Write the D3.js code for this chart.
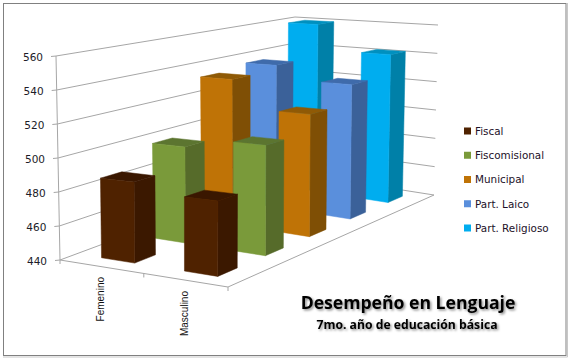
<!DOCTYPE html>
<html>
<head>
<meta charset="utf-8">
<script src="https://cdnjs.cloudflare.com/ajax/libs/d3/7.8.5/d3.min.js"></script>
<style>
  html, body { margin: 0; padding: 0; background: #fff; }
  svg { display: block; }
</style>
</head>
<body>
<div id="chart"></div>
<script>
var categories = ["Femenino", "Masculino"];
var series = ["Fiscal", "Fiscomisional", "Municipal", "Part. Laico", "Part. Religioso"];
var femenino = [487, 499, 534, 537, 560];
var masculino = [482, 505, 516, 528, 542];
var valueTicks = [440, 460, 480, 500, 520, 540, 560];

var frontColors = ["#4f2200", "#7a9a3a", "#bf7306", "#5a8fdc", "#00adef"];
var sideColors = ["#3b1800", "#566b2a", "#7f4f05", "#3b6199", "#0080a8"];
var topColors = ["#3a1700", "#5c7530", "#8f5a06", "#3f6bab", "#0090bf"];

var width = 570, height = 358;

// corners of the 3d box as seen on screen: floor, then the 560 level
var floor = [[60, 260], [228, 287], [434, 195], [294, 173]];
var ceil = [[56, 56], [229, 65], [438, 25], [295, 17]];

// maps the unit square on four screen corners
function homography(p) {
  var dx1 = p[1][0] - p[2][0], dx2 = p[3][0] - p[2][0], sx = p[0][0] - p[1][0] + p[2][0] - p[3][0];
  var dy1 = p[1][1] - p[2][1], dy2 = p[3][1] - p[2][1], sy = p[0][1] - p[1][1] + p[2][1] - p[3][1];
  var det = dx1 * dy2 - dx2 * dy1;
  var g = (sx * dy2 - dx2 * sy) / det, h = (dx1 * sy - sx * dy1) / det;
  return function (u, v) {
    var w = g * u + h * v + 1;
    return [
      ((p[1][0] - p[0][0] + g * p[1][0]) * u + (p[3][0] - p[0][0] + h * p[3][0]) * v + p[0][0]) / w,
      ((p[1][1] - p[0][1] + g * p[1][1]) * u + (p[3][1] - p[0][1] + h * p[3][1]) * v + p[0][1]) / w
    ];
  };
}

var floorMap = homography(floor), ceilMap = homography(ceil);

var yScale = d3.scaleLinear().domain([440, 560]).range([0, 1]);
var uScale = d3.scaleBand().domain(categories).range([0, 1]).paddingInner(0.6).paddingOuter(0.3);
var vScale = d3.scaleBand().domain(series).range([0, 1]).paddingInner(0.6).paddingOuter(0.3);

function project(u, v, value) {
  var a = floorMap(u, v), b = ceilMap(u, v), t = yScale(value);
  return [a[0] + (b[0] - a[0]) * t, a[1] + (b[1] - a[1]) * t];
}

var line = d3.line();

var svg = d3.select("#chart").append("svg").attr("width", width).attr("height", height)
  .style("font-family", "'DejaVu Sans', sans-serif");

var defs = svg.append("defs");
var shadow = defs.append("filter").attr("id", "soft").attr("x", "-10%").attr("y", "-30%").attr("width", "120%").attr("height", "170%");
shadow.append("feDropShadow").attr("dx", 1.5).attr("dy", 1.5).attr("stdDeviation", 1.2).attr("flood-color", "#000").attr("flood-opacity", 0.45);

// frame
svg.append("rect").attr("x", 3.5).attr("y", 3.5).attr("width", 562.5).attr("height", 352)
  .attr("fill", "#fff").attr("stroke", "#808080").attr("stroke-width", 1);
svg.append("path").attr("d", "M567.5,3V357H3").attr("fill", "none").attr("stroke", "#c8c8c8");

// gridlines on both walls
var grid = svg.append("g").attr("fill", "none").attr("stroke", "#a6a6a6").attr("stroke-width", 1);
valueTicks.forEach(function (t) {
  grid.append("path").attr("d", line([project(0, 0, t), project(0, 1, t), project(1, 1, t)]));
});
grid.append("path").attr("d", line([project(0, 0, 440), project(0, 0, 560)]));
grid.append("path").attr("d", line([project(0, 0, 440), project(1, 0, 440), project(1, 1, 440)]));

// tick marks
valueTicks.forEach(function (t) {
  var p = project(0, 0, t);
  grid.append("path").attr("d", line([[p[0] - 5, p[1] + 0.5], p]));
  svg.append("text").attr("x", p[0] - 13).attr("y", p[1] + 1.5).attr("dy", "0.36em")
    .attr("text-anchor", "end").attr("font-size", 10.5).attr("fill", "#1c1c28").text(t);
});
[0, 0.5, 1].forEach(function (u) {
  var p = project(u, 0, 440);
  grid.append("path").attr("d", line([p, [p[0], p[1] + 4]]));
});

// bars, back row first
var bars = [];
series.forEach(function (s, i) {
  bars.push({ s: s, i: i, c: categories[0], value: femenino[i] });
  bars.push({ s: s, i: i, c: categories[1], value: masculino[i] });
});
bars.sort(function (a, b) { return b.i - a.i; });

var barG = svg.append("g").selectAll("g").data(bars).join("g");

function face(g, fill, pts) {
  g.append("path").attr("d", line(pts) + "Z").attr("fill", fill).attr("stroke", fill).attr("stroke-width", 0.5);
}

barG.each(function (d) {
  var g = d3.select(this);
  var u0 = uScale(d.c), u1 = u0 + uScale.bandwidth();
  var v0 = vScale(d.s), v1 = v0 + vScale.bandwidth();
  face(g, sideColors[d.i], [project(u1, v0, 440), project(u1, v1, 440), project(u1, v1, d.value), project(u1, v0, d.value)]);
  face(g, topColors[d.i], [project(u0, v0, d.value), project(u1, v0, d.value), project(u1, v1, d.value), project(u0, v1, d.value)]);
  face(g, frontColors[d.i], [project(u0, v0, 440), project(u1, v0, 440), project(u1, v0, d.value), project(u0, v0, d.value)]);
});

// category labels
categories.forEach(function (c, i) {
  svg.append("text").attr("transform", "translate(" + (i ? 188 : 104) + "," + (i ? 291 : 277) + ") rotate(-90)")
    .attr("text-anchor", "end").attr("font-family", "'Liberation Sans', sans-serif")
    .attr("font-size", 10).attr("fill", "#111").text(c);
});

// legend
var legendY = d3.scalePoint().domain(series).range([131, 228]);
var legend = svg.append("g").selectAll("g").data(series).join("g")
  .attr("transform", function (d) { return "translate(464," + legendY(d) + ")"; });
legend.append("rect").attr("x", 0).attr("y", -3.5).attr("width", 7).attr("height", 7)
  .attr("fill", function (d, i) { return frontColors[i]; });
legend.append("text").attr("x", 11).attr("dy", "0.36em").attr("font-size", 10.4).attr("fill", "#1c1028")
  .text(function (d) { return d; });

// title
svg.append("text").attr("x", 408).attr("y", 309).attr("text-anchor", "middle")
  .attr("font-family", "'Open Sans', sans-serif").attr("font-weight", 700).attr("font-size", 17.6)
  .attr("fill", "#000").attr("filter", "url(#soft)").text("Desempeño en Lenguaje");
svg.append("text").attr("x", 407).attr("y", 329).attr("text-anchor", "middle")
  .attr("font-family", "'Open Sans', sans-serif").attr("font-weight", 700).attr("font-size", 12.2)
  .attr("fill", "#000").attr("filter", "url(#soft)").text("7mo. año de educación básica");
</script>
</body>
</html>
